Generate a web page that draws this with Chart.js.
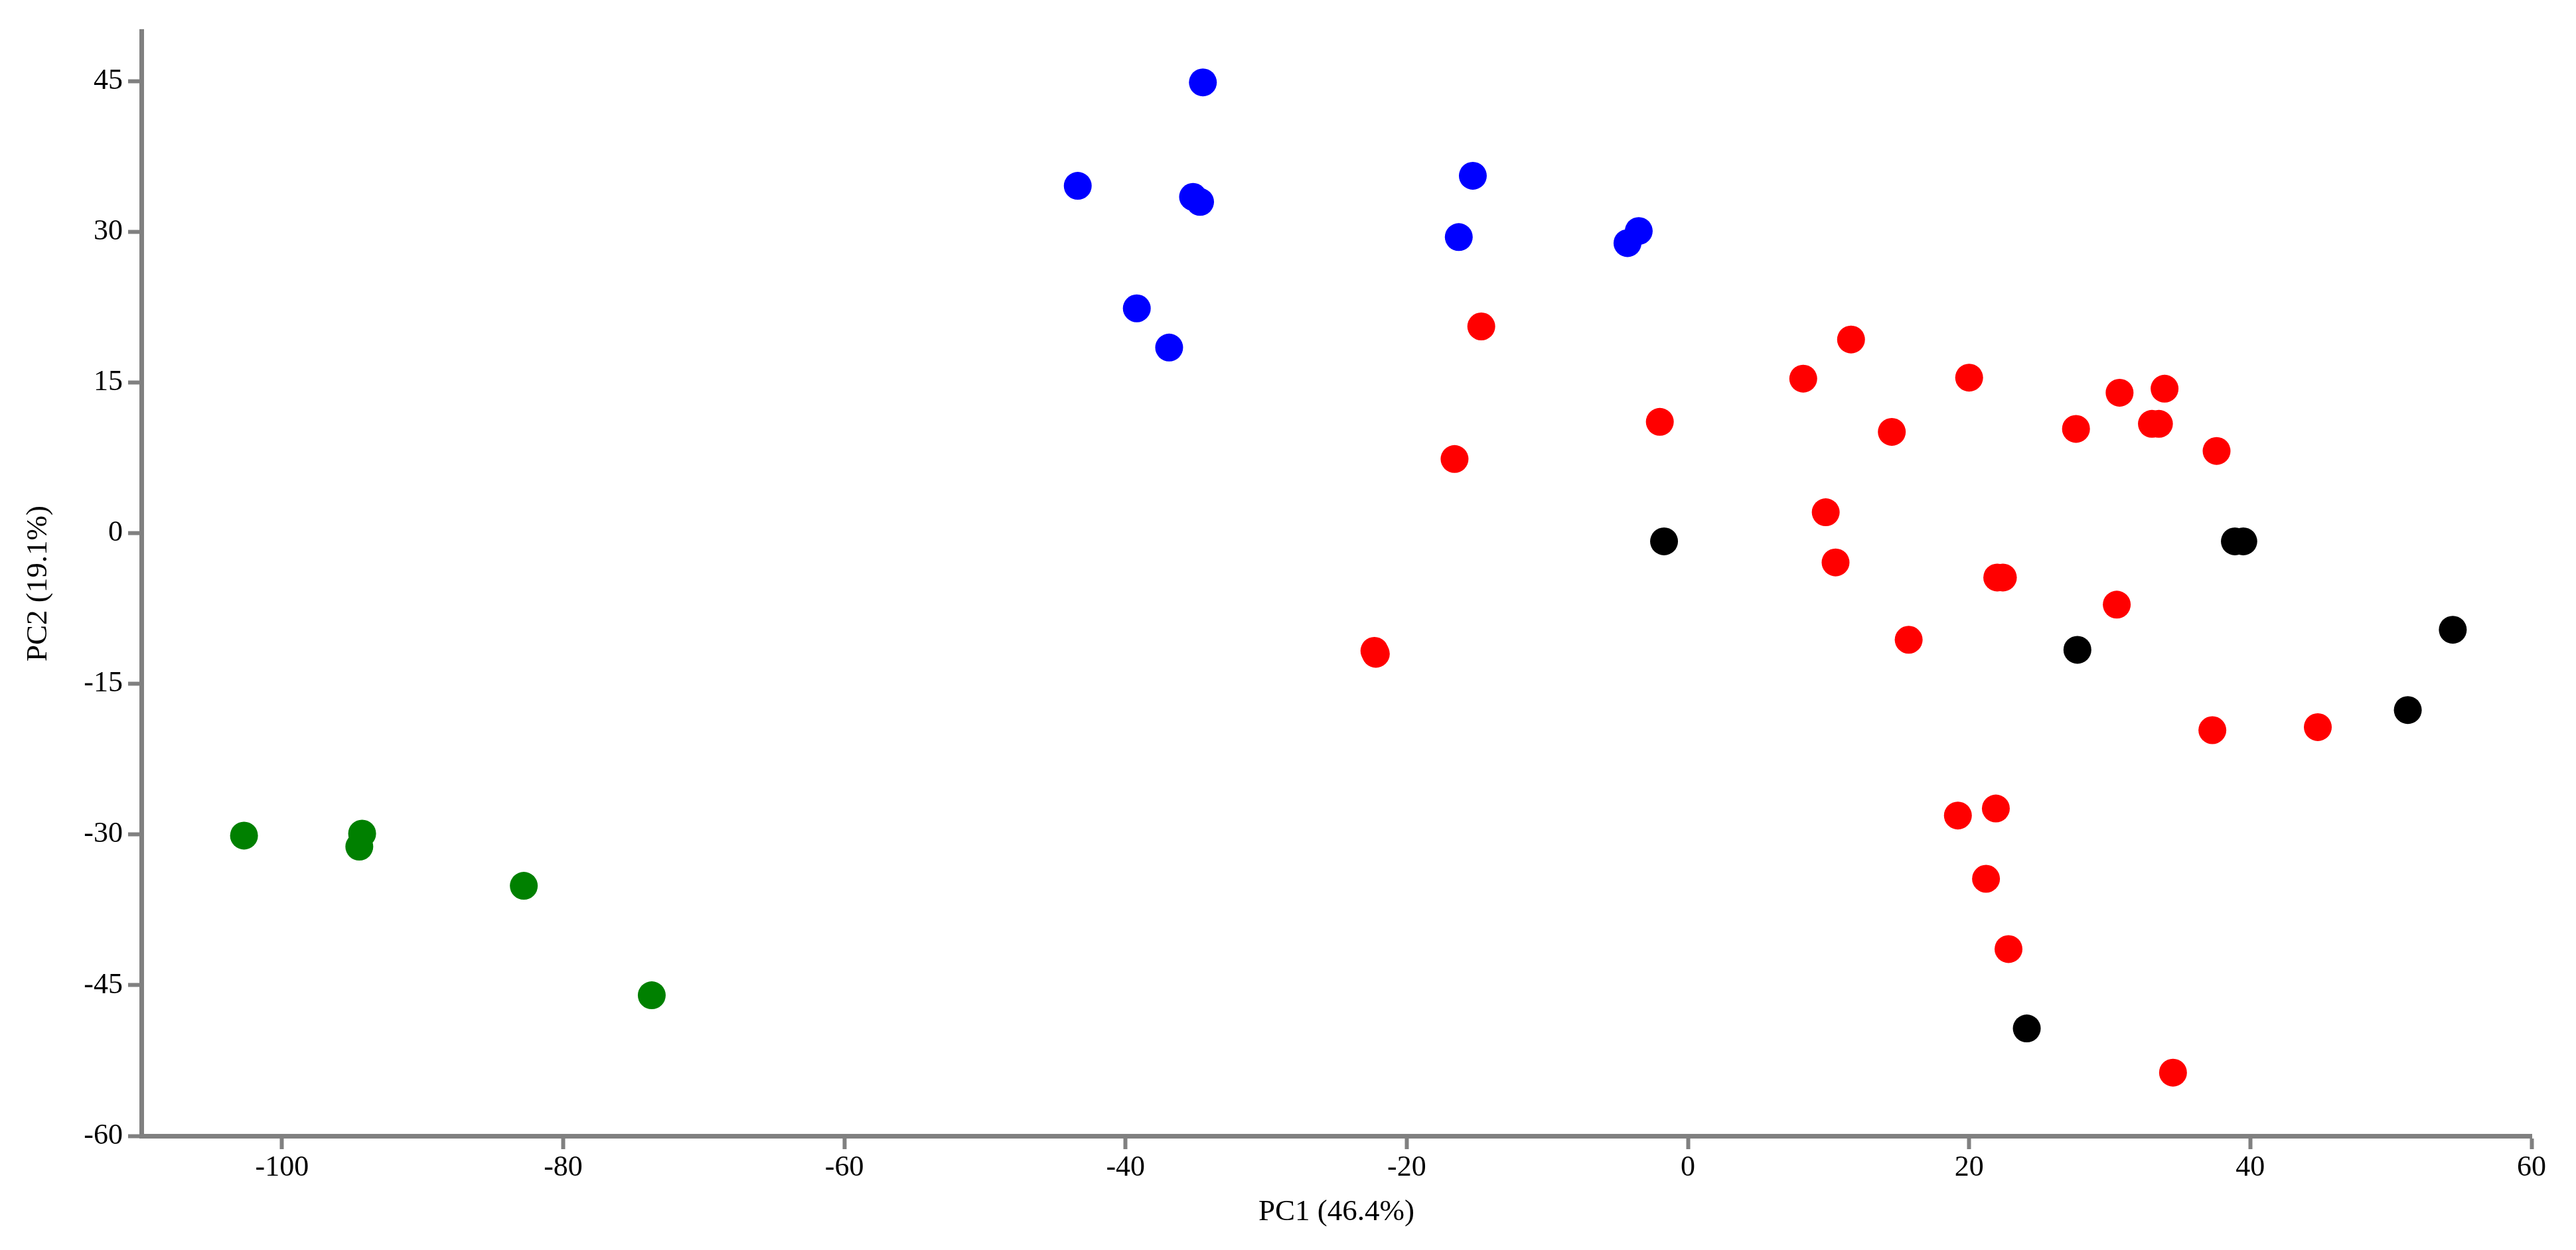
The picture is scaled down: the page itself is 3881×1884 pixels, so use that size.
<!DOCTYPE html>
<html><head><meta charset="utf-8">
<script src="https://cdn.jsdelivr.net/npm/chart.js@4.4.0/dist/chart.umd.min.js"></script>
<style>html,body{margin:0;padding:0;background:#fff;} canvas{display:block;}</style>
</head><body>
<canvas id="c" width="3881" height="1884" style="width:3881px;height:1884px"></canvas>
<script>
const xTicks = [-100, -80, -60, -40, -20, 0, 20, 40, 60];
const yTicks = [-60, -45, -30, -15, 0, 15, 30, 45];
const xTitle = 'PC1 (46.4%)';
const yTitle = 'PC2 (19.1%)';

const blueX = [-34.5, -43.4, -35.2, -34.7, -39.2, -36.9, -15.3, -16.3, -4.3, -3.5];
const blueY = [44.9, 34.6, 33.5, 33.0, 22.4, 18.5, 35.6, 29.5, 28.9, 30.1];

const redX = [-14.7, 11.6, 8.2, 20.0, 33.9, 30.7, -2.0, 14.5, 27.6, 33.0, 33.5, 37.6, -16.6, 9.8, 10.5, 22.0, 22.4, 30.5, 15.7, -22.3, -22.2, 37.3, 44.8, 19.2, 21.9, 21.2, 22.8, 34.5];
const redY = [20.6, 19.3, 15.4, 15.5, 14.4, 14.0, 11.1, 10.1, 10.4, 10.9, 10.9, 8.2, 7.4, 2.1, -2.9, -4.4, -4.4, -7.1, -10.6, -11.7, -12.0, -19.6, -19.3, -28.1, -27.4, -34.4, -41.4, -53.7];

const blackX = [-1.7, 38.9, 39.5, 27.7, 54.4, 51.2, 24.1];
const blackY = [-0.8, -0.8, -0.8, -11.6, -9.6, -17.6, -49.3];

const greenX = [-102.7, -94.3, -94.5, -82.8, -73.7];
const greenY = [-30.1, -29.9, -31.2, -35.1, -46.0];

function pts(xs, ys) { return xs.map((x, i) => ({x: x, y: ys[i]})); }
function ds(xs, ys, color) {
  return {data: pts(xs, ys), backgroundColor: color, borderWidth: 0, pointRadius: 21, pointHoverRadius: 21};
}

const tickFont = {family: 'Liberation Serif', size: 44};
const titleFont = {family: 'Liberation Serif', size: 45};
const axisGray = '#808080';

new Chart(document.getElementById('c'), {
  type: 'scatter',
  data: {datasets: [
    ds(blueX, blueY, '#0000ff'),
    ds(redX, redY, '#ff0000'),
    ds(blackX, blackY, '#000000'),
    ds(greenX, greenY, '#008000')
  ]},
  options: {
    responsive: false,
    animation: false,
    devicePixelRatio: 1,
    layout: {padding: {left: 0, right: 67, top: 47, bottom: 0}},
    plugins: {legend: {display: false}, tooltip: {enabled: false}},
    scales: {
      x: {
        type: 'linear', min: -110, max: 60,
        afterBuildTicks: s => { s.ticks = xTicks.map(v => ({value: v})); },
        afterFit: s => { s.height = 172; },
        border: {display: true, color: axisGray, width: 7},
        grid: {display: true, drawOnChartArea: false, drawTicks: true, tickLength: 20, tickWidth: 6, tickColor: axisGray},
        ticks: {color: '#000', font: tickFont, padding: 2, maxRotation: 0, autoSkip: false},
        title: {display: true, text: xTitle, color: '#000', font: titleFont, padding: {top: 0, bottom: 30}}
      },
      y: {
        type: 'linear', min: -60, max: 50,
        afterBuildTicks: s => { s.ticks = yTicks.map(v => ({value: v})); },
        afterFit: s => { s.width = 213; },
        border: {display: true, color: axisGray, width: 7},
        grid: {display: true, drawOnChartArea: false, drawTicks: true, tickLength: 20, tickWidth: 6, tickColor: axisGray},
        ticks: {color: '#000', font: tickFont, padding: 8, autoSkip: false},
        title: {display: true, text: yTitle, color: '#000', font: titleFont, padding: {top: 31, bottom: 0}}
      }
    }
  }
});
</script>
</body></html>
